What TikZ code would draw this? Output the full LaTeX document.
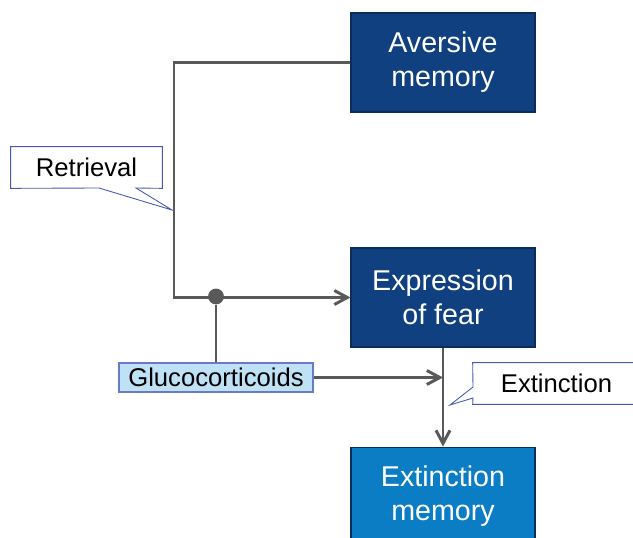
\documentclass[tikz,border=0pt]{standalone}
\usepackage{fontspec}
\setmainfont{Liberation Sans}
\usetikzlibrary{positioning,arrows.meta}
\usepackage{xcolor}
\definecolor{darkbox}{RGB}{16,64,128}
\definecolor{lightbox}{RGB}{10,125,196}
\definecolor{glucofill}{RGB}{190,225,245}
\definecolor{linegray}{RGB}{89,89,89}
\definecolor{tagblue}{RGB}{70,90,180}

\begin{document}
\begin{tikzpicture}[x=0.02cm,y=-0.02cm,>={Straight Barb[length=2.6mm,width=2.8mm]},
  membox/.style={draw=darkbox!70!black,line width=0.6pt,fill=darkbox,text=white,
    minimum width=3.68cm,minimum height=1.98cm,inner sep=0pt,align=center,
    font=\fontsize{16.3}{19.3}\selectfont},
  glucobox/.style={draw=tagblue!80,line width=0.6pt,fill=glucofill,
    minimum width=3.88cm,minimum height=0.58cm,inner sep=0pt,
    font=\fontsize{14.6}{17}\selectfont},
  tag/.style={minimum width=3.02cm,minimum height=0.82cm,inner sep=0pt,
    font=\fontsize{14.6}{17}\selectfont},
  tagline/.style={draw=tagblue,line width=0.5pt,fill=white},
  link/.style={draw=linegray,line width=1.7pt},
  junction/.style={circle,fill=linegray,minimum size=9pt,inner sep=0pt}]
\useasboundingbox (0,0) rectangle (633,538);
\node[membox] (aversive) at (443,62.5) {Aversive\\memory};
\node[membox] (expr) [below=2.7cm of aversive] {Expression\\of fear};
\node[membox,fill=lightbox] (extmem) [below=1.98cm of expr] {Extinction\\memory};
\node[glucobox] (gluco) at (216,377.5) {Glucocorticoids};
\coordinate (bend) at (174,62.5);
\coordinate (retrtip) at (172,210);
\coordinate (exttip) at (450,405);
% retrieval pathway
\draw[link,->] (aversive.west) -- (bend) |- (expr.west);
\node[junction] (junc) at (216,296.5) {};
\draw[link] (junc) -- (gluco.north);
\draw[link,->] (gluco.east) -- (gluco.east -| expr.south);
\draw[link,->] (expr.south) -- (extmem.north);
% callouts
\node[tag] (retr) at (86.5,167.5) {};
\draw[tagline] (retr.south west) -- (retr.north west) -- (retr.north east)
  -- (retr.south east) -- (136,188) -- (retrtip) -- (99,188) -- cycle;
\node[tag] at (retr) {Retrieval};
\node[tag,minimum width=3.34cm] (extlabel) at (556.5,383.5) {};
\draw[tagline] (extlabel.north west) -- (extlabel.north east) -- (extlabel.south east)
  -- (extlabel.south west) -- (473,398) -- (exttip) -- (473,387) -- cycle;
\node[tag] at (extlabel) {Extinction};
\end{tikzpicture}
\end{document}
